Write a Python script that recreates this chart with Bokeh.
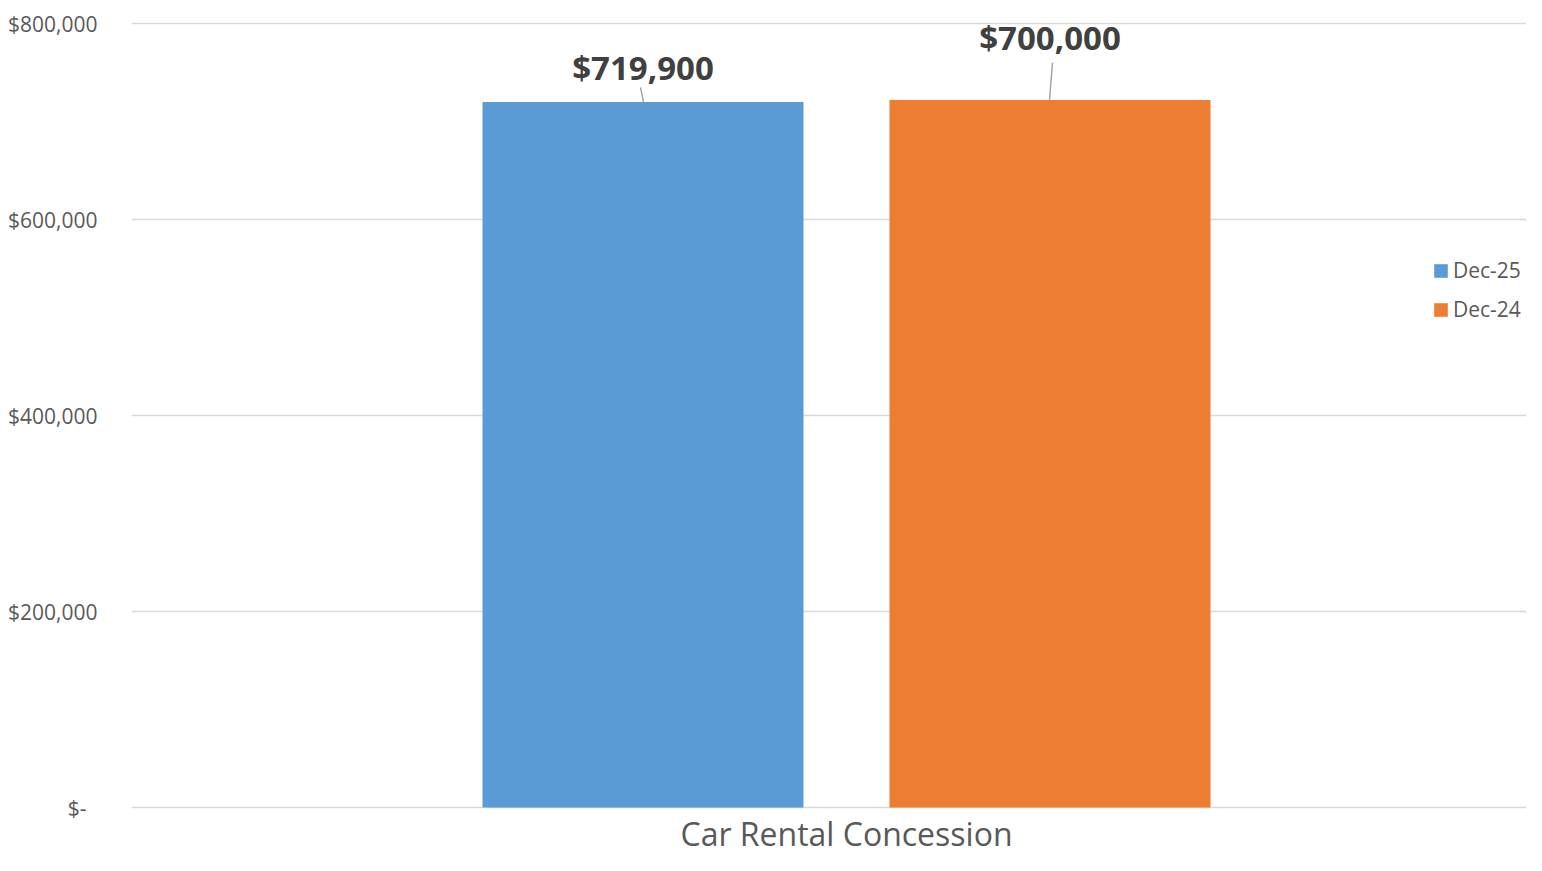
from bokeh.plotting import figure
from bokeh.models import Range1d, FixedTicker, NumeralTickFormatter, Legend, LegendItem
from bokeh.core.properties import value
from bokeh.embed import file_html
from bokeh.resources import INLINE

# ---- data ----
category = ["Car Rental Concession"]
series_names = ["Dec-25", "Dec-24"]
series_values = [719900, 722000]
value_labels = ["$719,900", "$700,000"]
y_ticks = [0, 200000, 400000, 600000, 800000]

# ---- styles / layout ----
series_colors = ["#5B9BD5", "#ED7D31"]
FONT = "Open Sans"
W, H = 1526, 855
LEFT = 131
AXIS_TOP_PX = 23        # y pixel of the top tick
AXIS_ZERO_PX = 807      # y pixel of the zero line
TOP = AXIS_TOP_PX - 1
frame_w = W - LEFT
px_x = 1.0 / frame_w
px_y = (y_ticks[-1] - y_ticks[0]) / (AXIS_ZERO_PX - AXIS_TOP_PX)
y_lo = y_ticks[0] - (H - AXIS_ZERO_PX) * px_y
y_hi = y_ticks[-1] + 1 * px_y

group_center_px = 715          # px from frame left
bar_w_px = 321
dodge_px = [-203.5, 203.5]
x_lo = -group_center_px / frame_w
x_hi = x_lo + 1.0
bar_w = bar_w_px * px_x
label_offsets = [-34, -62]          # px above bar top (label centre)
leader_bottom_dx = [0.5, -0.5]      # px
leader_top_dx = [-2.5, 2.5]         # px
leader_len = [14.7, 37.3]           # px
cat_bottom_px = H - AXIS_ZERO_PX - 1   # text box bottom, px below the zero line

p = figure(width=W, height=H, output_backend="svg", toolbar_location=None,
           x_range=Range1d(x_lo, x_hi), y_range=Range1d(y_lo, y_hi),
           min_border_left=LEFT, min_border_right=0, min_border_top=TOP,
           min_border_bottom=0)
p.outline_line_color = None
p.background_fill_color = "white"
p.border_fill_color = "white"

items = []
for i, name in enumerate(series_names):
    xc = dodge_px[i] * px_x
    r = p.vbar(x=[xc], top=[series_values[i]], width=bar_w, bottom=0,
               fill_color=series_colors[i], line_color=None)
    items.append(LegendItem(label=name, renderers=[r]))
    p.segment(x0=[xc + leader_bottom_dx[i] * px_x], y0=[series_values[i]],
              x1=[xc + leader_top_dx[i] * px_x],
              y1=[series_values[i] + leader_len[i] * px_y],
              line_color="#A6A6A6", line_width=1.5)
    p.text(x=[xc], y=[series_values[i]], text=[value_labels[i]],
           y_offset=label_offsets[i], text_align="center", text_baseline="middle",
           text_font=value(FONT), text_font_style="bold", text_font_size="33px",
           text_color="#404040")

# category label (single category under the bars)
p.text(x=[0], y=[0], text=category, y_offset=cat_bottom_px,
       text_align="center", text_baseline="bottom",
       text_font=value(FONT), text_font_size="32px", text_color="#595959")

# y axis
p.yaxis.ticker = FixedTicker(ticks=y_ticks)
p.yaxis.formatter = NumeralTickFormatter(format="$0,0")
p.yaxis.major_label_overrides = {0: "$-\u00a0\u00a0"}
p.yaxis.axis_line_color = None
p.yaxis.major_tick_line_color = None
p.yaxis.minor_tick_line_color = None
p.yaxis.major_label_standoff = 28
p.yaxis.major_label_text_font = FONT
p.yaxis.major_label_text_font_size = "21px"
p.yaxis.major_label_text_color = "#595959"

p.xaxis.visible = False
p.xgrid.visible = False
p.ygrid.ticker = FixedTicker(ticks=y_ticks)
p.ygrid.grid_line_color = "#D9D9D9"
p.ygrid.grid_line_width = 1.5

legend = Legend(items=items, location=(1301, H - 323), orientation="vertical",
                padding=0, margin=0, spacing=11, border_line_color=None,
                background_fill_alpha=0, glyph_width=17, glyph_height=17,
                label_standoff=4, label_height=20,
                label_text_font=FONT, label_text_font_size="21px",
                label_text_color="#595959")
p.add_layout(legend)

open("out.html", "w").write(file_html(p, INLINE))
